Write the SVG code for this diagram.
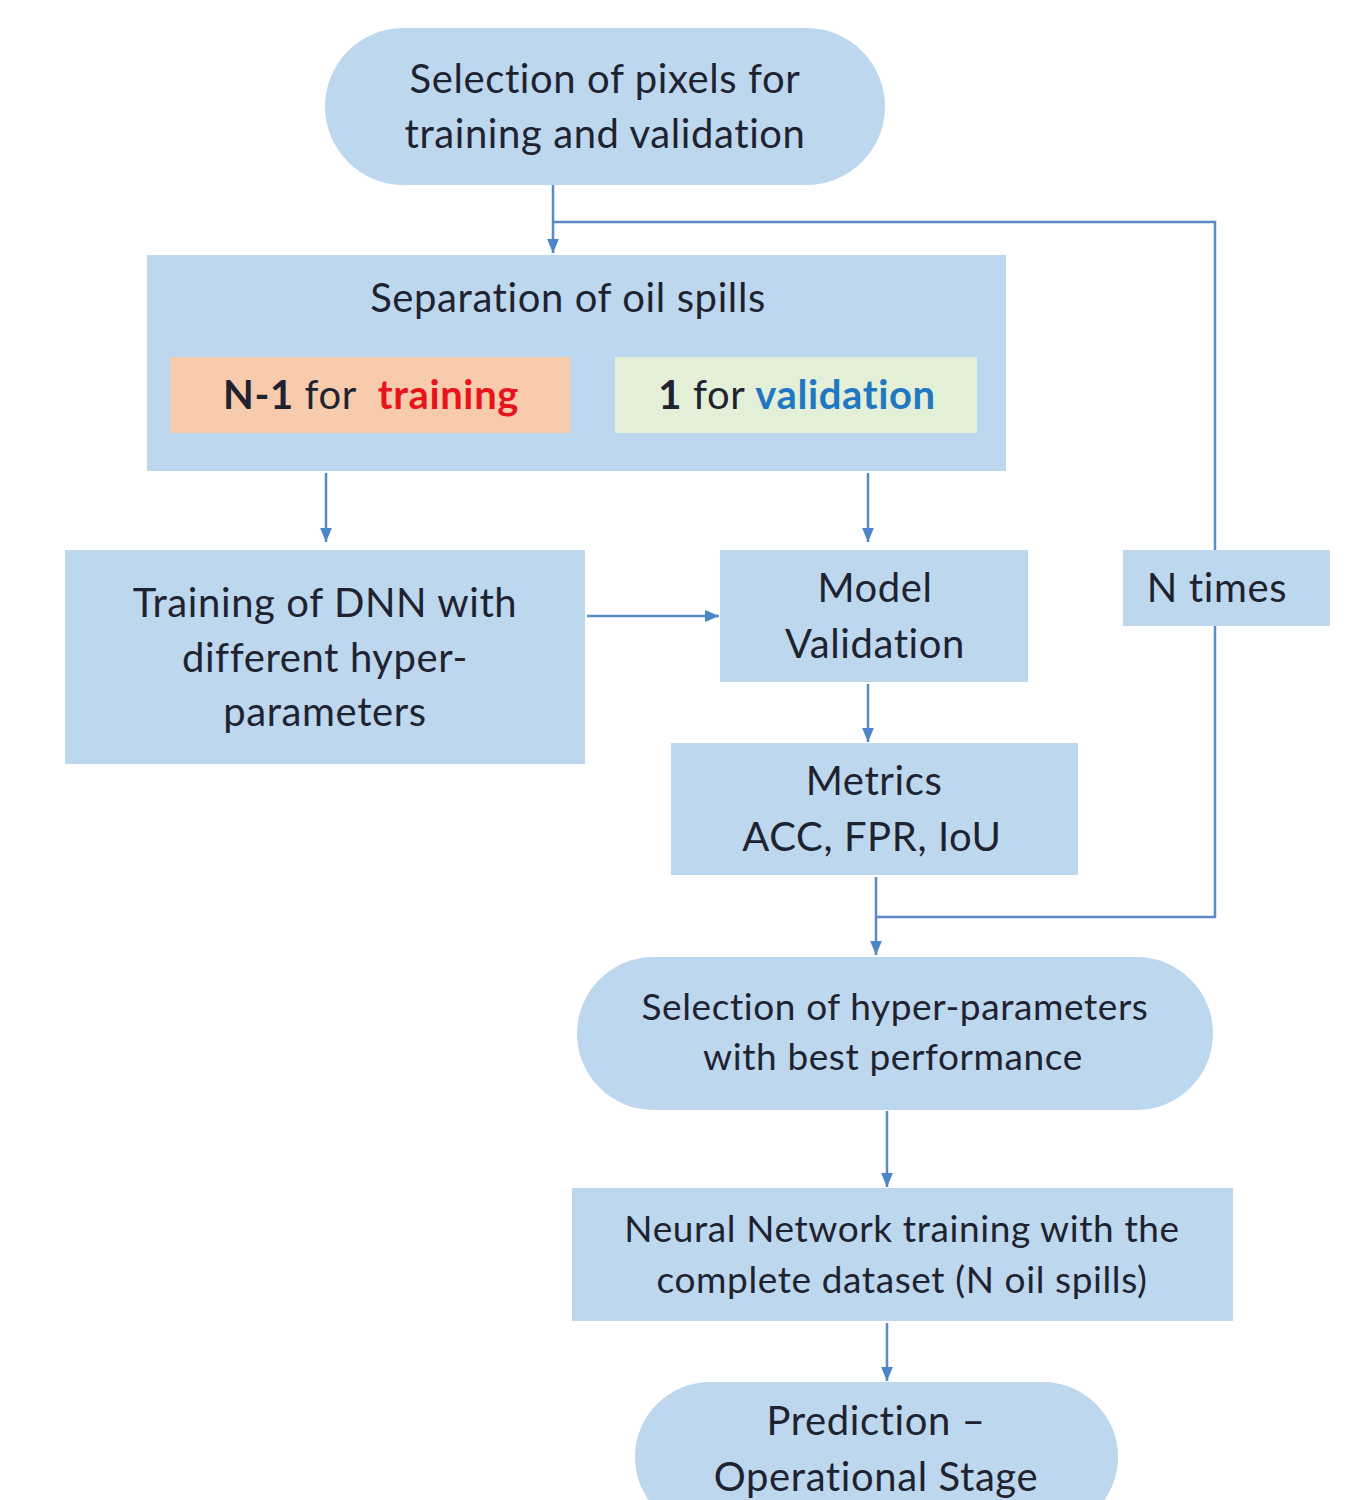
<svg xmlns="http://www.w3.org/2000/svg" width="1348" height="1500" viewBox="0 0 1348 1500">
<defs>
<style>
.n{fill:#BDD7EE;}
.t{font-family:Lato,"Liberation Sans",sans-serif;font-size:40px;letter-spacing:0.6px;fill:#1f2330;text-anchor:middle;}
.s{font-size:37px;}
.b{font-weight:bold;}
.c{fill:none;stroke:#5a8ac6;stroke-width:2.5;}
</style>
<marker id="a" viewBox="0 0 10 10" refX="10" refY="5" markerWidth="14" markerHeight="14" orient="auto" markerUnits="userSpaceOnUse">
<path d="M0,0.8 L10,5 L0,9.2 z" fill="#4a86c8"/>
</marker>
</defs>
<rect width="1348" height="1500" fill="#ffffff"/>
<g id="connectors">
<path class="c" d="M553,185 V253" marker-end="url(#a)"/>
<path class="c" d="M553,222 H1215 V550"/>
<path class="c" d="M1215,626 V917 H876"/>
<path class="c" d="M326,473 V542" marker-end="url(#a)"/>
<path class="c" d="M868,473 V542" marker-end="url(#a)"/>
<path class="c" d="M587,616 H719" marker-end="url(#a)"/>
<path class="c" d="M868,684 V742" marker-end="url(#a)"/>
<path class="c" d="M876,877 V955" marker-end="url(#a)"/>
<path class="c" d="M887,1111 V1187" marker-end="url(#a)"/>
<path class="c" d="M887,1323 V1381" marker-end="url(#a)"/>
</g>
<g id="n1">
<rect class="n" x="325" y="28" width="560" height="157" rx="78.5"/>
<text class="t" x="605" y="93">Selection of pixels for</text>
<text class="t" x="605" y="148">training and validation</text>
</g>
<g id="n2">
<rect class="n" x="147" y="255" width="859" height="216"/>
<text class="t" x="568" y="312">Separation of oil spills</text>
</g>
<g id="n2a">
<rect x="170" y="357" width="400" height="76" fill="#F8CBAD"/>
<text class="t" x="371" y="409" xml:space="preserve"><tspan class="b">N-1</tspan> for  <tspan class="b" fill="#e8141c">training</tspan></text>
</g>
<g id="n2b">
<rect x="615" y="357" width="362" height="76" fill="#E4EFD8"/>
<text class="t" x="797" y="409"><tspan class="b">1</tspan> for <tspan class="b" fill="#1f78c1">validation</tspan></text>
</g>
<g id="n3">
<rect class="n" x="65" y="550" width="520" height="214"/>
<text class="t" x="325" y="617">Training of DNN with</text>
<text class="t" x="325" y="672">different hyper-</text>
<text class="t" x="325" y="726">parameters</text>
</g>
<g id="n4">
<rect class="n" x="720" y="550" width="308" height="132"/>
<text class="t" x="875" y="602">Model</text>
<text class="t" x="875" y="658">Validation</text>
</g>
<g id="n5">
<rect class="n" x="1123" y="550" width="207" height="76"/>
<text class="t" x="1217" y="602">N times</text>
</g>
<g id="n6">
<rect class="n" x="671" y="743" width="407" height="132"/>
<text class="t" x="874" y="795">Metrics</text>
<text class="t" x="872" y="851">ACC, FPR, IoU</text>
</g>
<g id="n7">
<rect class="n" x="577" y="957" width="636" height="153" rx="76.5"/>
<text class="t s" x="895" y="1020">Selection of hyper-parameters</text>
<text class="t s" x="893" y="1070">with best performance</text>
</g>
<g id="n8">
<rect class="n" x="572" y="1188" width="661" height="133"/>
<text class="t s" x="902" y="1242">Neural Network training with the</text>
<text class="t s" x="902" y="1293">complete dataset (N oil spills)</text>
</g>
<g id="n9">
<rect class="n" x="635" y="1382" width="483" height="150" rx="75"/>
<text class="t" x="876" y="1435">Prediction –</text>
<text class="t" x="876" y="1491">Operational Stage</text>
</g>
</svg>
